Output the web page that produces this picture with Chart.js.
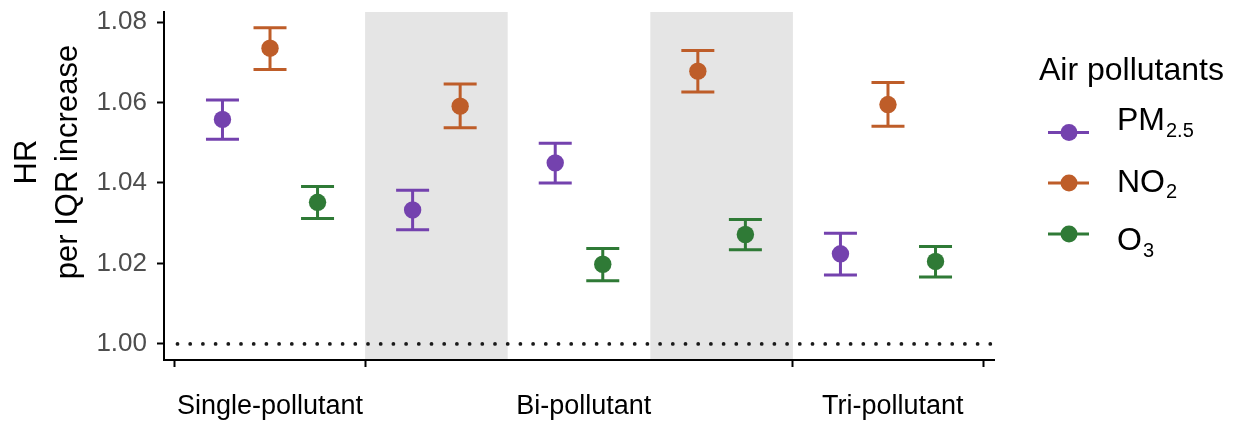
<!DOCTYPE html>
<html>
<head>
    <meta charset="UTF-8">
    <title>HR per IQR increase</title>
    <script src="https://cdn.jsdelivr.net/npm/chart.js"></script>
    <style>
        html, body { margin: 0; padding: 0; background: #fff; }
        #wrap { width: 1243px; height: 424px; }
    </style>
</head>
<body>
    <div id="wrap"><canvas id="myChart"></canvas></div>

    <script>
        // model groups along the x axis
        var groupLabels = ['Single-pollutant', 'Bi-pollutant', 'Tri-pollutant'];
        var groupLabelX = [2, 8.6, 15.1];
        var boundaryTicks = [0, 4, 13, 17];
        var bandFrom = [4, 10];
        var bandTo = [7, 13];

        // y axis ticks
        var yTicks = [1.00, 1.02, 1.04, 1.06, 1.08];
        var refLine = 1.00;

        // series (hazard ratio, 95% CI)
        var seriesNames = ['PM2.5', 'NO2', 'O3'];

        var pmX  = [1, 5, 8, 14];
        var pmHR = [1.0558, 1.0333, 1.0450, 1.0224];
        var pmLo = [1.0509, 1.0284, 1.0400, 1.0171];
        var pmHi = [1.0606, 1.0382, 1.0499, 1.0275];

        var no2X  = [2, 6, 11, 15];
        var no2HR = [1.0735, 1.0591, 1.0678, 1.0595];
        var no2Lo = [1.0682, 1.0537, 1.0626, 1.0541];
        var no2Hi = [1.0786, 1.0646, 1.0729, 1.0650];

        var o3X  = [3, 9, 12, 16];
        var o3HR = [1.0352, 1.0198, 1.0272, 1.0205];
        var o3Lo = [1.0312, 1.0157, 1.0234, 1.0166];
        var o3Hi = [1.0391, 1.0237, 1.0309, 1.0242];

        var colors = ['#7442AE', '#BE5D29', '#2F7A36'];
        var FONT = "'Liberation Sans', Arial, Helvetica, sans-serif";

        function points(xs, ys) {
            var out = [];
            for (var i = 0; i < xs.length; i++) out.push({ x: xs[i], y: ys[i] });
            return out;
        }

        function makeSet(i, xs, ys, lo, hi) {
            return {
                label: seriesNames[i],
                data: points(xs, ys),
                lower: lo,
                upper: hi,
                backgroundColor: colors[i],
                borderColor: colors[i],
                borderWidth: 0,
                pointRadius: 8.7,
                pointHoverRadius: 8.7
            };
        }

        // grey bands behind the chart
        var bandsPlugin = {
            id: 'bands',
            beforeDraw: function (chart) {
                var ctx = chart.ctx, a = chart.chartArea, x = chart.scales.x;
                ctx.save();
                ctx.fillStyle = '#E5E5E5';
                for (var i = 0; i < bandFrom.length; i++) {
                    var x0 = x.getPixelForValue(bandFrom[i]);
                    var x1 = x.getPixelForValue(bandTo[i]);
                    ctx.fillRect(x0, a.top, x1 - x0, a.bottom - a.top);
                }
                ctx.restore();
            }
        };

        // dotted reference line + error bars
        var errorPlugin = {
            id: 'errbars',
            beforeDatasetsDraw: function (chart) {
                var ctx = chart.ctx, a = chart.chartArea;
                var xs = chart.scales.x, ys = chart.scales.y;
                ctx.save();
                var yr = ys.getPixelForValue(refLine);
                ctx.strokeStyle = '#1a1a1a';
                ctx.lineWidth = 3.8;
                ctx.lineCap = 'round';
                ctx.setLineDash([0, 12.7]);
                ctx.beginPath();
                ctx.moveTo(a.left + 13.5, yr);
                ctx.lineTo(a.right, yr);
                ctx.stroke();
                ctx.setLineDash([]);
                ctx.lineCap = 'butt';

                chart.data.datasets.forEach(function (ds) {
                    ctx.strokeStyle = ds.borderColor;
                    ctx.lineWidth = 3;
                    ds.data.forEach(function (p, j) {
                        var px = xs.getPixelForValue(p.x);
                        var yl = ys.getPixelForValue(ds.lower[j]);
                        var yh = ys.getPixelForValue(ds.upper[j]);
                        ctx.beginPath();
                        ctx.moveTo(px, yl); ctx.lineTo(px, yh);
                        ctx.moveTo(px - 16.5, yl); ctx.lineTo(px + 16.5, yl);
                        ctx.moveTo(px - 16.5, yh); ctx.lineTo(px + 16.5, yh);
                        ctx.stroke();
                    });
                });
                ctx.restore();
            }
        };

        // y title (two lines) and legend with subscripts
        var textPlugin = {
            id: 'texts',
            afterDraw: function (chart) {
                var ctx = chart.ctx;
                ctx.save();
                ctx.fillStyle = '#000';
                ctx.font = '31px ' + FONT;
                ctx.textAlign = 'center';
                ctx.textBaseline = 'middle';
                ctx.save();
                ctx.translate(27, 162);
                ctx.rotate(-Math.PI / 2);
                ctx.fillText('HR', 0, 0);
                ctx.restore();
                ctx.save();
                ctx.translate(68, 162);
                ctx.rotate(-Math.PI / 2);
                ctx.fillText('per IQR increase', 0, 0);
                ctx.restore();

                // legend
                ctx.textAlign = 'left';
                ctx.textBaseline = 'alphabetic';
                ctx.font = '32px ' + FONT;
                ctx.fillText('Air pollutants', 1039, 80);
                var main = ['PM', 'NO', 'O'];
                var sub = ['2.5', '2', '3'];
                var keyY = [132.5, 183, 234];
                var textY = [130, 191.5, 250];
                for (var i = 0; i < main.length; i++) {
                    ctx.strokeStyle = colors[i];
                    ctx.fillStyle = colors[i];
                    ctx.lineWidth = 3;
                    ctx.beginPath();
                    ctx.moveTo(1048, keyY[i]); ctx.lineTo(1089, keyY[i]);
                    ctx.stroke();
                    ctx.beginPath();
                    ctx.arc(1069, keyY[i], 8.5, 0, Math.PI * 2);
                    ctx.fill();
                    ctx.fillStyle = '#000';
                    ctx.font = '32px ' + FONT;
                    ctx.fillText(main[i], 1117, textY[i]);
                    var w = ctx.measureText(main[i]).width;
                    ctx.font = '20px ' + FONT;
                    ctx.fillText(sub[i], 1117 + w + 1, textY[i] + 6.5);
                }
                ctx.restore();
            }
        };

        var ctx = document.getElementById('myChart').getContext('2d');
        var myChart = new Chart(ctx, {
            type: 'scatter',
            data: {
                datasets: [
                    makeSet(0, pmX, pmHR, pmLo, pmHi),
                    makeSet(1, no2X, no2HR, no2Lo, no2Hi),
                    makeSet(2, o3X, o3HR, o3Lo, o3Hi)
                ]
            },
            options: {
                responsive: true,
                maintainAspectRatio: false,
                animation: false,
                layout: { padding: { left: 0, right: 249, top: 12, bottom: 0 } },
                plugins: {
                    legend: { display: false },
                    tooltip: { enabled: false }
                },
                scales: {
                    x: {
                        type: 'linear',
                        min: -0.23,
                        max: 17.23,
                        afterBuildTicks: function (scale) {
                            var t = boundaryTicks.concat(groupLabelX).sort(function (a, b) { return a - b; });
                            scale.ticks = t.map(function (v) { return { value: v }; });
                        },
                        afterFit: function (scale) {
                            scale.height = 64;
                            scale.paddingLeft = 0;
                            scale.paddingRight = 0;
                        },
                        ticks: {
                            autoSkip: false,
                            maxRotation: 0,
                            padding: 23,
                            color: '#000',
                            font: { family: FONT, size: 27 },
                            callback: function (v) {
                                var k = groupLabelX.indexOf(v);
                                return k >= 0 ? groupLabels[k] : '';
                            }
                        },
                        grid: {
                            drawOnChartArea: false,
                            tickLength: 7,
                            tickWidth: 2,
                            tickColor: function (c) {
                                return (c.tick && groupLabelX.indexOf(c.tick.value) >= 0) ? 'rgba(0,0,0,0)' : '#000';
                            }
                        },
                        border: { color: '#000', width: 2 }
                    },
                    y: {
                        min: 0.996,
                        max: 1.0825,
                        afterBuildTicks: function (scale) {
                            scale.ticks = yTicks.map(function (v) { return { value: v }; });
                        },
                        afterFit: function (scale) {
                            scale.width = 164;
                            scale.paddingTop = 0;
                            scale.paddingBottom = 0;
                        },
                        ticks: {
                            padding: 10,
                            color: '#4D4D4D',
                            font: { family: FONT, size: 26 },
                            callback: function (v) { return v.toFixed(2); }
                        },
                        grid: {
                            drawOnChartArea: false,
                            tickLength: 7,
                            tickWidth: 2,
                            tickColor: '#000'
                        },
                        border: { color: '#000', width: 2 }
                    }
                }
            },
            plugins: [bandsPlugin, errorPlugin, textPlugin]
        });
    </script>
</body>
</html>
